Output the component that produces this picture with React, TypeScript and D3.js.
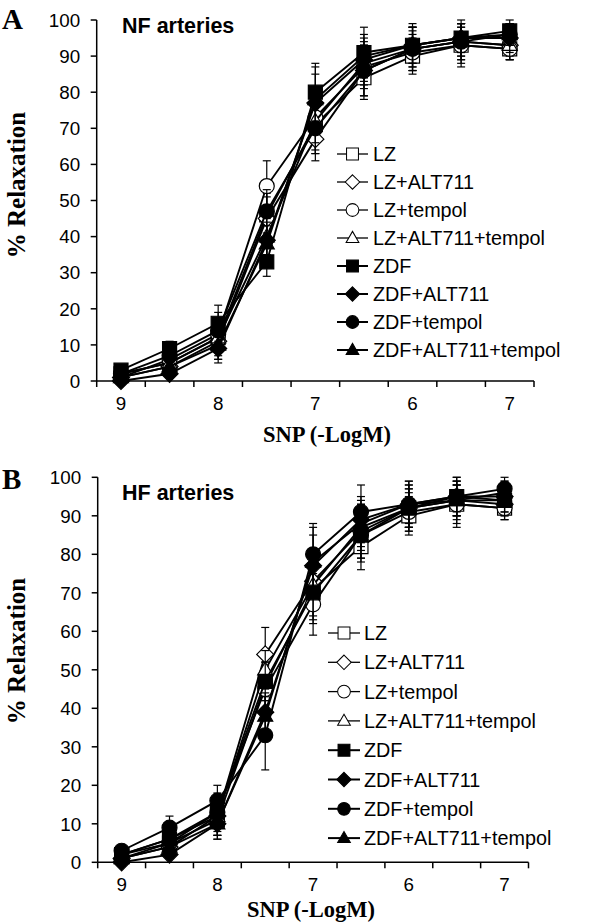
import React from "react";
import * as d3 from "d3";

// ---------- data ----------
const categories = ["9", "8.5", "8", "7.5", "7", "6.5", "6", "5.5", "5"];
const xTickLabels = ["9", "", "8", "", "7", "", "6", "", "7"];
const yTicks = [0, 10, 20, 30, 40, 50, 60, 70, 80, 90, 100];

const seriesNames = [
  "LZ",
  "LZ+ALT711",
  "LZ+tempol",
  "LZ+ALT711+tempol",
  "ZDF",
  "ZDF+ALT711",
  "ZDF+tempol",
  "ZDF+ALT711+tempol",
];
const markerShapes = ["square", "diamond", "circle", "triangle", "square", "diamond", "circle", "triangle"];
const markerFilled = [false, false, false, false, true, true, true, true];

// Panel A (NF arteries)
const nfValues = [
  [2, 5, 12, 46, 71, 84, 90, 93, 92],
  [1, 4, 11, 45, 67, 86, 92, 94, 93],
  [1, 6, 13, 54, 73, 87, 91, 93, 92],
  [2, 5, 12, 40, 72, 88, 92, 94, 93],
  [3, 9, 16, 33, 80, 91, 93, 95, 97],
  [0, 2, 9, 39, 77, 89, 93, 95, 95],
  [2, 7, 14, 47, 70, 86, 92, 94, 96],
  [1, 4, 10, 38, 78, 90, 93, 95, 96],
];
const nfErrors = [
  [1, 2, 4, 6, 8, 6, 5, 5, 3],
  [1, 2, 5, 6, 6, 7, 6, 4, 3],
  [1, 2, 4, 7, 7, 6, 5, 6, 3],
  [1, 2, 5, 5, 8, 6, 5, 5, 4],
  [1, 2, 5, 4, 8, 7, 5, 4, 3],
  [1, 1, 4, 5, 8, 6, 6, 5, 4],
  [1, 2, 5, 6, 7, 7, 6, 5, 3],
  [1, 2, 4, 5, 9, 6, 5, 4, 3],
];

// Panel B (HF arteries)
const hfValues = [
  [2, 5, 11, 46, 71, 82, 90, 93, 92],
  [1, 4, 12, 54, 73, 86, 92, 94, 93],
  [1, 5, 13, 45, 67, 85, 91, 93, 92],
  [2, 6, 12, 50, 72, 87, 92, 94, 94],
  [2, 6, 13, 47, 70, 85, 92, 95, 94],
  [0, 2, 10, 39, 77, 89, 93, 95, 95],
  [3, 9, 16, 33, 80, 91, 93, 95, 97],
  [1, 4, 10, 38, 78, 88, 93, 94, 96],
];
const hfErrors = [
  [1, 2, 4, 6, 8, 6, 5, 5, 3],
  [1, 2, 5, 7, 7, 7, 6, 4, 3],
  [1, 2, 4, 6, 8, 6, 5, 6, 3],
  [1, 2, 5, 5, 8, 6, 5, 5, 4],
  [1, 2, 5, 5, 8, 7, 5, 4, 3],
  [1, 1, 4, 5, 8, 6, 6, 5, 4],
  [1, 3, 4, 9, 8, 7, 6, 5, 3],
  [1, 2, 4, 5, 9, 6, 5, 4, 3],
];

// ---------- layout ----------
const SANS = "'Liberation Sans', Arial, Helvetica, sans-serif";
const SERIF = "'Liberation Serif', 'Times New Roman', serif";

type PanelCfg = {
  left: number;
  right: number;
  top: number;
  bottom: number;
  letter: string;
  letterY: number;
  title: string;
  titleY: number;
  yTitleY: number;
  xTitleX: number;
  xTitleY: number;
  legendLineX0: number;
  legendLineX1: number;
  legendTextX: number;
  legendY0: number;
  legendStep: number;
};

const panelA: PanelCfg = {
  left: 96.7,
  right: 534,
  top: 20,
  bottom: 381,
  letter: "A",
  letterY: 28.5,
  title: "NF arteries",
  titleY: 33,
  yTitleY: 185,
  xTitleX: 327,
  xTitleY: 441.5,
  legendLineX0: 337,
  legendLineX1: 368,
  legendTextX: 373,
  legendY0: 154,
  legendStep: 28,
};

const panelB: PanelCfg = {
  left: 97.7,
  right: 528.5,
  top: 477.3,
  bottom: 862.3,
  letter: "B",
  letterY: 488.5,
  title: "HF arteries",
  titleY: 500,
  yTitleY: 651,
  xTitleX: 311,
  xTitleY: 916.5,
  legendLineX0: 328,
  legendLineX1: 360,
  legendTextX: 364,
  legendY0: 633,
  legendStep: 29.3,
};

function markerPath(shape: string, cx: number, cy: number): string {
  if (shape === "square") {
    const h = 7;
    return `M${cx - h},${cy - h}H${cx + h}V${cy + h}H${cx - h}Z`;
  }
  if (shape === "diamond") {
    const h = 8.5;
    return `M${cx},${cy - h}L${cx + h},${cy}L${cx},${cy + h}L${cx - h},${cy}Z`;
  }
  if (shape === "triangle") {
    const s = 15;
    const hgt = (s * Math.sqrt(3)) / 2;
    return `M${cx},${cy - hgt * 0.6}L${cx + s / 2},${cy + hgt * 0.4}L${cx - s / 2},${cy + hgt * 0.4}Z`;
  }
  const r = 7.5;
  return `M${cx - r},${cy}a${r},${r} 0 1,0 ${2 * r},0a${r},${r} 0 1,0 ${-2 * r},0Z`;
}

function Panel({ cfg, values, errors }: { cfg: PanelCfg; values: number[][]; errors: number[][] }) {
  const x = d3.scaleBand<string>().domain(categories).range([cfg.left, cfg.right]).padding(0);
  const cx = (c: string) => (x(c) as number) + x.bandwidth() / 2;
  const y = d3.scaleLinear().domain([0, 100]).range([cfg.bottom, cfg.top]);
  const line = d3
    .line<number>()
    .x((_, i) => cx(categories[i]))
    .y((d) => y(d));
  const boundaries = d3.range(categories.length + 1).map((i) => cfg.left + i * x.step());

  return (
    <g>
      {/* panel letter + title */}
      <text x={2} y={cfg.letterY} fontFamily={SERIF} fontWeight="bold" fontSize={29}>
        {cfg.letter}
      </text>
      <text x={122} y={cfg.titleY} fontFamily={SANS} fontWeight="bold" fontSize={21.5}>
        {cfg.title}
      </text>

      {/* y axis */}
      <line x1={cfg.left} x2={cfg.left} y1={y(0)} y2={y(100)} stroke="#000" strokeWidth={1.5} />
      {yTicks.map((t) => (
        <g key={t}>
          <line x1={cfg.left - 6} x2={cfg.left} y1={y(t)} y2={y(t)} stroke="#000" strokeWidth={1.5} />
          <text
            x={cfg.left - 16.5}
            y={y(t)}
            dy="0.36em"
            textAnchor="end"
            fontFamily={SANS}
            fontSize={18.8}
          >
            {t}
          </text>
        </g>
      ))}

      {/* x axis */}
      <line x1={cfg.left} x2={cfg.right} y1={y(0)} y2={y(0)} stroke="#000" strokeWidth={1.5} />
      {boundaries.map((bx, i) => (
        <line key={i} x1={bx} x2={bx} y1={y(0)} y2={y(0) + 6} stroke="#000" strokeWidth={1.5} />
      ))}
      {categories.map((c, i) =>
        xTickLabels[i] ? (
          <text key={c} x={cx(c)} y={y(0) + 29} textAnchor="middle" fontFamily={SANS} fontSize={18.8}>
            {xTickLabels[i]}
          </text>
        ) : null
      )}

      {/* axis titles */}
      <text
        transform={`translate(24.5,${cfg.yTitleY}) rotate(-90)`}
        textAnchor="middle"
        fontFamily={SERIF}
        fontWeight="bold"
        fontSize={25}
      >
        % Relaxation
      </text>
      <text x={cfg.xTitleX} y={cfg.xTitleY} textAnchor="middle" fontFamily={SERIF} fontWeight="bold" fontSize={22.5}>
        SNP (-LogM)
      </text>

      {/* series */}
      {values.map((vals, si) => (
        <g key={si}>
          {vals.map((v, i) => {
            const px = cx(categories[i]);
            const e = errors[si][i];
            return (
              <g key={i} stroke="#000" strokeWidth={1.2}>
                <line x1={px} x2={px} y1={y(v - e)} y2={y(v + e)} />
                <line x1={px - 4} x2={px + 4} y1={y(v + e)} y2={y(v + e)} />
                <line x1={px - 4} x2={px + 4} y1={y(v - e)} y2={y(v - e)} />
              </g>
            );
          })}
          <path d={line(vals) || ""} fill="none" stroke="#000" strokeWidth={1.9} />
          {vals.map((v, i) => (
            <path
              key={i}
              d={markerPath(markerShapes[si], cx(categories[i]), y(v))}
              fill={markerFilled[si] ? "#000" : "#fff"}
              stroke="#000"
              strokeWidth={1.2}
            />
          ))}
        </g>
      ))}

      {/* legend */}
      {seriesNames.map((name, si) => {
        const ly = cfg.legendY0 + si * cfg.legendStep;
        const mx = (cfg.legendLineX0 + cfg.legendLineX1) / 2;
        return (
          <g key={name}>
            <line
              x1={cfg.legendLineX0}
              x2={cfg.legendLineX1}
              y1={ly}
              y2={ly}
              stroke="#000"
              strokeWidth={markerFilled[si] ? 2 : 1.3}
            />
            <path
              d={markerPath(markerShapes[si], mx, ly)}
              transform={`translate(${mx},${ly}) scale(0.85) translate(${-mx},${-ly})`}
              fill={markerFilled[si] ? "#000" : "#fff"}
              stroke="#000"
              strokeWidth={1.2}
            />
            <text x={cfg.legendTextX} y={ly} dy="0.36em" fontFamily={SANS} fontSize={19.8}>
              {name}
            </text>
          </g>
        );
      })}
    </g>
  );
}

export default function App() {
  return (
    <svg
      width={600}
      height={922}
      viewBox="0 0 600 922"
      style={{ position: "absolute", left: 0, top: 0, background: "#fff" }}
    >
      <rect x={0} y={0} width={600} height={922} fill="#fff" />
      <Panel cfg={panelA} values={nfValues} errors={nfErrors} />
      <Panel cfg={panelB} values={hfValues} errors={hfErrors} />
    </svg>
  );
}
